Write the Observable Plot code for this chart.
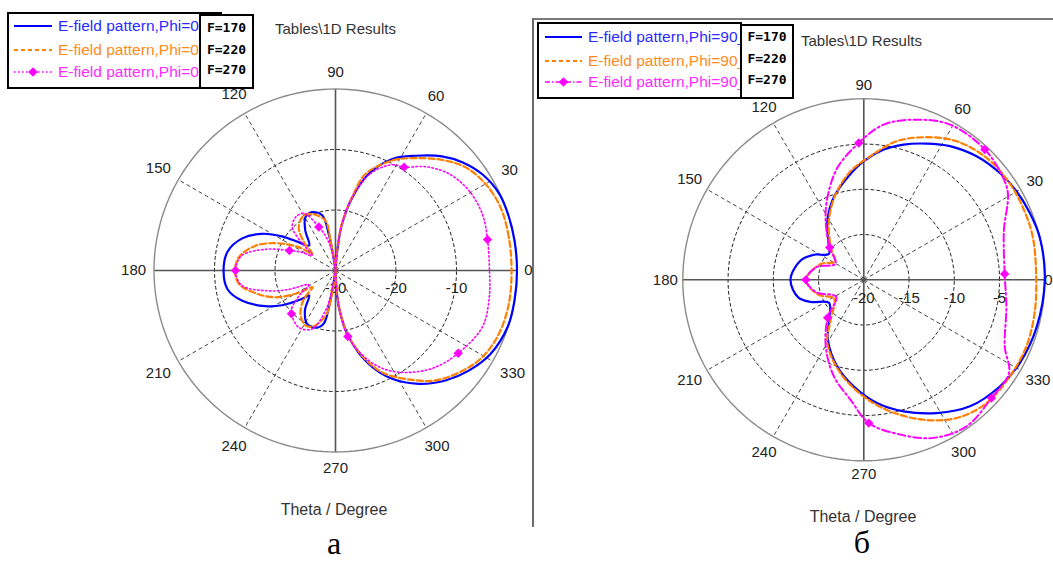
<!DOCTYPE html>
<html><head><meta charset="utf-8">
<script src="https://cdn.jsdelivr.net/npm/d3@7"></script>
<script src="https://cdn.jsdelivr.net/npm/@observablehq/plot@0.6"></script>
<style>
body{margin:0;background:#fff;}
#root{position:relative;width:1053px;height:561px;overflow:hidden;font-family:"Liberation Sans",Arial,sans-serif;background:#fff;}
.abs{position:absolute;}
.box{position:absolute;box-sizing:border-box;border:2px solid #000;background:#fff;}
.ftxt{position:absolute;font-family:"DejaVu Sans Mono",monospace;font-weight:bold;font-size:13px;color:#000;width:100%;text-align:center;line-height:16px;}
.ltxt{position:absolute;font-size:15.5px;white-space:nowrap;line-height:18px;}
.title{position:absolute;font-size:15px;color:#333;white-space:nowrap;line-height:18px;}
.axlab{position:absolute;font-size:16px;color:#333;white-space:nowrap;line-height:18px;}
.cap{position:absolute;font-family:"Liberation Serif","Times New Roman",serif;font-size:32px;color:#000;line-height:30px;}
</style></head>
<body><div id="root"></div>
<script>
// ---------- data ----------
const angleTicks = [0, 30, 60, 90, 120, 150, 180, 210, 240, 270, 300, 330];
const spokeAngles = [30, 60, 120, 150, 210, 240, 300, 330];
const ticksA = [-30, -20, -10];
const ringsA = [-20, -10];
const ticksB = [-20, -15, -10, -5];
const ringsB = [-15, -10, -5];
const legendLabelsA = ["E-field pattern,Phi=0_", "E-field pattern,Phi=0_", "E-field pattern,Phi=0_"];
const legendLabelsB = ["E-field pattern,Phi=90_", "E-field pattern,Phi=90_", "E-field pattern,Phi=90_"];
const freqLabels = ["F=170", "F=220", "F=270"];

// Panel a (Phi=0): [theta deg, dB]
const aBlue = [[0,0],[9.5,0],[18,0],[25,-0.1],[33,-0.95],[40.5,-2.45],[47,-4.2],[55,-6.85],[63,-9.3],[71,-13.1],[77,-17.6],[82,-22.2],[85,-26.7],[88,-30],[92,-31],[96,-30],[99,-27.2],[100.5,-23.8],[103.5,-20.6],[112,-19.6],[119.5,-19.9],[127,-21.7],[136.5,-24],[142.5,-22.3],[147.5,-19.5],[153.5,-16.4],[161,-13.7],[170,-11.9],[180,-11.5],[190,-11.9],[198,-13.8],[207,-17],[213,-19.45],[220.5,-22.8],[223.5,-24],[232.5,-21.7],[242,-20],[251,-20],[257.5,-21],[259.7,-23.8],[261,-27.2],[264,-30],[268,-31],[272,-28],[275.2,-23.9],[281.3,-18.8],[289.6,-13.6],[297.6,-9.8],[306.3,-6.76],[315,-4.3],[323.1,-2.45],[331.7,-0.9],[342,-0.05],[350.5,0]];
const aOrange = [[0,-0.9],[11,-0.83],[21,-0.8],[30,-1.37],[38.5,-2.56],[46,-4.6],[54.6,-7.2],[62.7,-9.55],[72.8,-13.3],[77,-17.3],[82,-22],[85,-26.5],[88,-30],[92,-31],[96,-29],[99.5,-25],[101.5,-21.6],[112.4,-19.9],[120,-19.5],[130.3,-20.6],[138,-23],[144.4,-25.3],[147.6,-22.8],[155.5,-19.1],[163,-16.1],[172,-13.9],[180,-13.4],[188,-13.9],[196,-16.3],[204,-19.1],[211,-22.8],[216,-25.3],[222,-23],[231,-20.8],[241.4,-19.65],[248.8,-20.1],[258.5,-22.7],[261,-25],[264,-29],[268,-31],[272,-29],[275.5,-24],[281,-19],[289.5,-14],[295.8,-11],[305.1,-7.9],[312.3,-5.43],[321,-3.4],[329.4,-1.83],[338.8,-1.04],[349.1,-0.83]];
const aMagenta = [[0,-4.55],[11.5,-4.36],[21,-4.0],[31,-4.3],[40.5,-5.37],[49,-7.27],[56.4,-9.5],[62,-10.2],[70,-12.9],[77,-17.4],[82,-22],[85,-26.5],[88,-30],[92,-31],[100,-27],[105,-24.5],[111,-22.3],[118.9,-19.2],[126.9,-19],[135,-19.9],[141,-23],[147.2,-25.4],[152,-23.5],[156.5,-21.7],[163,-18],[171,-14.3],[180,-13.47],[189,-14.3],[197,-18.5],[201.8,-21.5],[208,-25],[214,-23],[220.3,-20.6],[224.5,-19.8],[237.1,-18.8],[248.2,-19.6],[256,-23.2],[260,-27],[265,-31],[272,-29],[276,-23.5],[280.6,-18.9],[290.3,-14.1],[298,-11.3],[307,-8.94],[316,-7.0],[326,-5.54],[338.9,-4.0],[350.2,-4.2]];
const aMarkers = [[11.5,-4.36],[56.4,-9.5],[111,-22.3],[156.5,-21.7],[180,-13.47],[224.5,-19.8],[280.6,-18.9],[326,-5.54]];

// Panel b (Phi=90)
const bBlue = [[0,0],[13.6,0],[22.1,-0.23],[30.2,-0.5],[37.5,-0.85],[47.6,-1.52],[57.2,-2.43],[65.2,-3.42],[73.6,-4.42],[81.3,-5.44],[90,-6.89],[99.2,-8.57],[110,-10.3],[121.7,-12.33],[132.3,-14.16],[143.4,-15.2],[153.2,-13.85],[163,-12.7],[180,-11.9],[195,-12.5],[202.7,-13.65],[213.7,-15.4],[229.3,-14.1],[239.3,-12.24],[253,-9.97],[264.7,-8.15],[276.1,-6.3],[286.8,-4.81],[298.7,-3.21],[310,-1.75],[321.9,-0.9],[331.8,-0.46],[344.7,-0.2]];
const bOrange = [[0,-0.95],[14.1,-0.74],[24.4,-0.69],[34.4,-0.68],[44.9,-0.88],[56.2,-1.57],[66.2,-2.78],[76.6,-4.25],[86.9,-6.32],[96.9,-7.9],[108.2,-10.05],[120.5,-12.4],[135.6,-14.9],[148,-16.2],[160,-14.9],[180,-13.6],[198,-14.7],[212.3,-16.1],[230.7,-14.2],[240.2,-11.9],[256,-9.36],[270,-7.1],[281.4,-5.16],[293.1,-3.19],[303.9,-1.6],[314.8,-0.78],[326.4,-0.66],[337.6,-0.59],[348.8,-0.77]];
const bMagenta = [[2.4,-4.42],[19.3,-3.6],[30.7,-1.47],[36.2,-0.92],[47.1,-0.35],[60.9,-0.38],[71.7,-1.36],[82.7,-2.71],[92.1,-4.87],[103.3,-7.29],[113.9,-10.07],[122.9,-12.24],[136.5,-14.8],[150.5,-16.4],[165,-14.6],[180,-13.6],[195,-14.6],[211.5,-16.4],[226.4,-14.2],[240.4,-11.5],[252.9,-8.8],[263.7,-6.66],[272,-4.16],[283.3,-2.42],[293.8,-0.91],[305,-0.22],[317.2,-0.77],[327.4,-0.95],[334.6,-2.76],[349.2,-3.96]];
const bMarkers = [[2.4,-4.42],[47.1,-0.35],[92.1,-4.87],[136.5,-14.8],[180,-13.6],[226.4,-14.2],[272,-4.16],[317.2,-0.77]];

// ---------- drawing ----------
const BLUE = "#0000ff", ORANGE = "#ff8000", MAGENTA = "#ff00ff";
const root = document.getElementById("root");
const rad = d => d * Math.PI / 180;

function polarPanel(cfg) {
  const {width, height, cx, cy, k, minDb, rings, ticks, series, markers, gap} = cfg;
  const rho = db => Math.max(db, minDb) - minDb;
  const R = -minDb;
  const px = (t, r) => r * Math.cos(rad(t));
  const py = (t, r) => r * Math.sin(rad(t));
  const xMax = (width - cx - 5) / k; // keep labels inside the svg
  const circ = d3.range(0, 361, 2);
  const ringData = rings.flatMap(level => circ.map(t => ({level, t})));
  const off = t => {
    const hw = String(t).length * 4.15;
    return (gap + hw * Math.abs(Math.cos(rad(t))) + 8.5 * Math.abs(Math.sin(rad(t)))) / k;
  };
  const marks = [
    Plot.line(ringData, {x: d => px(d.t, rho(d.level)), y: d => py(d.t, rho(d.level)), z: "level",
      stroke: "#222", strokeWidth: 1, strokeDasharray: "3,3"}),
    Plot.link(spokeAngles, {x1: () => 0, y1: () => 0, x2: t => px(t, R), y2: t => py(t, R),
      stroke: "#444", strokeWidth: 1, strokeDasharray: "4,3"}),
    Plot.link([0, 90], {x1: t => px(t, R), y1: t => py(t, R), x2: t => -px(t, R), y2: t => -py(t, R),
      stroke: "#555", strokeWidth: 1.6}),
    Plot.line(circ, {x: t => px(t, R), y: t => py(t, R), stroke: "#8a8a8a", strokeWidth: 1.4}),
    Plot.text(ticks, {x: v => rho(v), y: () => 0, dy: 18, text: v => String(v), fill: "#222",
      fontSize: 15, fontFamily: "Liberation Sans"}),
    Plot.text(angleTicks, {x: t => Math.min(xMax, px(t, R + off(t))), y: t => py(t, R + off(t)), text: t => String(t),
      fill: "#222", fontSize: 15, fontFamily: "Liberation Sans"})
  ];
  for (const s of series) {
    marks.push(Plot.line(s.data, {x: d => px(d[0], rho(d[1])), y: d => py(d[0], rho(d[1])),
      curve: "catmull-rom-closed", stroke: s.stroke, strokeWidth: s.width, strokeDasharray: s.dash,
      strokeLinejoin: "round"}));
  }
  marks.push(Plot.dot(markers, {x: d => px(d[0], rho(d[1])), y: d => py(d[0], rho(d[1])),
    symbol: "diamond2", r: 4.2, fill: MAGENTA, stroke: "none"}));
  const svg = Plot.plot({
    width, height, marginTop: 0, marginRight: 0, marginBottom: 0, marginLeft: 0,
    x: {domain: [-cx / k, (width - cx) / k], axis: null},
    y: {domain: [-(height - cy) / k, cy / k], axis: null},
    style: {background: "transparent", fontFamily: "Liberation Sans", overflow: "visible"},
    marks
  });
  svg.style.position = "absolute";
  svg.style.left = cfg.left + "px";
  svg.style.top = "0px";
  return svg;
}

// frame lines for panel b
function addLine(x, y, w, h, color) {
  const d = document.createElement("div");
  d.className = "abs";
  Object.assign(d.style, {left: x + "px", top: y + "px", width: w + "px", height: h + "px", background: color});
  root.appendChild(d);
}
addLine(533, 18, 520, 2, "#7a7a7a");
addLine(532, 18, 2, 509, "#6a6a6a");

root.appendChild(polarPanel({
  left: 0, width: 533, height: 561, cx: 335, cy: 270, k: 6.05, minDb: -30,
  rings: ringsA, ticks: ticksA, gap: 8, markers: aMarkers,
  series: [
    {data: aBlue, stroke: BLUE, width: 2.2, dash: null},
    {data: aOrange, stroke: ORANGE, width: 2.2, dash: "6,3"},
    {data: aMagenta, stroke: MAGENTA, width: 1.6, dash: "1.5,2.5"}
  ]
}));
root.appendChild(polarPanel({
  left: 533, width: 520, height: 561, cx: 330.3, cy: 279.3, k: 9.05, minDb: -20,
  rings: ringsB, ticks: ticksB, gap: 5, markers: bMarkers,
  series: [
    {data: bBlue, stroke: BLUE, width: 2.2, dash: null},
    {data: bOrange, stroke: ORANGE, width: 2.2, dash: "6,3"},
    {data: bMagenta, stroke: MAGENTA, width: 2, dash: "8,3,2,3"}
  ]
}));

// legends
function legend(cfg) {
  const {box, fbox, rows, lineX, textX, labels} = cfg;
  const b = document.createElement("div");
  b.className = "box";
  Object.assign(b.style, {left: box[0] + "px", top: box[1] + "px", width: box[2] + "px", height: box[3] + "px"});
  root.appendChild(b);
  const styles = [
    {color: BLUE, dash: null, w: 2.2, marker: false, text: "#2b2bff"},
    {color: ORANGE, dash: "4,3", w: 1.8, marker: false, text: "#ff8a1e"},
    {color: MAGENTA, dash: cfg.magDash, w: 1.4, marker: true, text: "#ff2bff"}
  ];
  const svg = d3.create("svg").attr("width", 1053).attr("height", 120)
    .style("position", "absolute").style("left", "0px").style("top", "0px");
  styles.forEach((s, i) => {
    svg.append("line").attr("x1", lineX[0]).attr("x2", lineX[1]).attr("y1", rows[i]).attr("y2", rows[i])
      .attr("stroke", s.color).attr("stroke-width", s.w).attr("stroke-dasharray", s.dash);
    if (s.marker) {
      const mx = (lineX[0] + lineX[1]) / 2;
      svg.append("path").attr("d", d3.symbol(d3.symbolDiamond2, 60)())
        .attr("transform", `translate(${mx},${rows[i]})`).attr("fill", MAGENTA);
    }
  });
  root.appendChild(svg.node());
  styles.forEach((s, i) => {
    const t = document.createElement("div");
    t.className = "ltxt";
    t.textContent = labels[i];
    Object.assign(t.style, {left: textX + "px", top: (rows[i] - 9) + "px", color: s.text});
    root.appendChild(t);
  });
  const f = document.createElement("div");
  f.className = "box";
  Object.assign(f.style, {left: fbox[0] + "px", top: fbox[1] + "px", width: fbox[2] + "px", height: fbox[3] + "px"});
  freqLabels.forEach((lab, i) => {
    const t = document.createElement("div");
    t.className = "ftxt";
    t.textContent = lab;
    t.style.top = (cfg.frows[i] - fbox[1] - 2 - 8) + "px";
    t.style.left = "0px";
    f.appendChild(t);
  });
  root.appendChild(f);
}
legend({box: [7, 12, 215, 77], fbox: [199, 14, 55, 75], rows: [26, 50, 72], frows: [28, 50, 70],
  lineX: [14, 52], textX: 58, labels: legendLabelsA, magDash: "1.5,2.5"});
legend({box: [537, 22, 205, 77], fbox: [740, 24, 54, 75], rows: [37, 61, 82], frows: [37, 59, 80],
  lineX: [545, 582], textX: 588, labels: legendLabelsB, magDash: "5,2,1.5,2"});

// titles and captions
function text(cls, str, x, y, anchor) {
  const t = document.createElement("div");
  t.className = cls;
  t.textContent = str;
  t.style.left = x + "px";
  t.style.top = y + "px";
  if (anchor === "middle") t.style.transform = "translateX(-50%)";
  root.appendChild(t);
}
text("title", "Tables\\1D Results", 275, 20);
text("title", "Tables\\1D Results", 801, 32);
text("axlab", "Theta / Degree", 334, 501, "middle");
text("axlab", "Theta / Degree", 863, 508, "middle");
text("cap", "а", 334, 528, "middle");
text("cap", "б", 862, 527, "middle");
</script>
</body></html>
